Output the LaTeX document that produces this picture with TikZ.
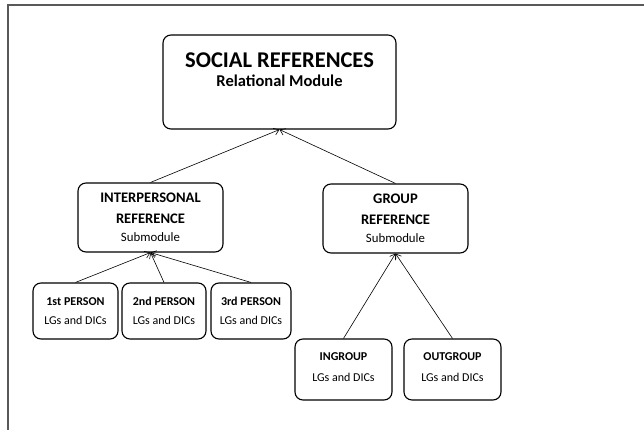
\documentclass[tikz,border=0pt]{standalone}
\usepackage{fontspec}
\setmainfont{Carlito}
\usetikzlibrary{positioning, arrows.meta}

\begin{document}
\begin{tikzpicture}[
        x=1pt, y=-1pt,
        modbox/.style={draw, line width=1.1pt, rounded corners=8pt, align=center, inner sep=2pt},
        leafbox/.style={modbox, font=\fontsize{12}{19}\selectfont},
        every path/.style={line width=0.6pt},
        link/.style={draw, -{Straight Barb[length=5pt,width=7pt]}}
    ]
    \useasboundingbox (0,0) rectangle (644,430);
    % frame
    \draw[line width=1.6pt, black!65] (7.8,430) -- (7.8,5.2) -- (644,5.2);

    % Nodes
    \node (social) [modbox, minimum width=233pt, minimum height=94pt, text depth=24pt,
        font=\fontsize{16.5}{19}\selectfont\bfseries] at (279.5,82)
        {{\fontsize{22.5}{28}\selectfont SOCIAL REFERENCES}\\Relational Module};
    \node (inter) [modbox, minimum width=145pt, minimum height=69pt,
        font=\fontsize{14.6}{21}\selectfont] at (150.5,217.5)
        {\textbf{INTERPERSONAL}\\\textbf{REFERENCE}\\[-3pt]{\fontsize{12.8}{15}\selectfont Submodule}};
    \node (group) [modbox, minimum width=145pt, minimum height=69pt,
        font=\fontsize{14.6}{21}\selectfont] at (395.5,218.5)
        {\textbf{GROUP}\\\textbf{REFERENCE}\\[-3pt]{\fontsize{12.8}{15}\selectfont Submodule}};

    \node (first) [leafbox, minimum width=85pt, minimum height=56pt] at (75.5,311) {\textbf{1st PERSON}\\LGs and DICs};
    \node (second) [leafbox, minimum width=84pt, minimum height=56pt] at (164,311) {\textbf{2nd PERSON}\\LGs and DICs};
    \node (third) [leafbox, minimum width=80pt, minimum height=56pt] at (251,311) {\textbf{3rd PERSON}\\LGs and DICs};

    \node (ingroup) [leafbox, minimum width=97pt, minimum height=61pt, text depth=5pt] at (343.5,369.5) {\textbf{INGROUP}\\[2pt]LGs and DICs};
    \node (outgroup) [leafbox, minimum width=97pt, minimum height=61pt, text depth=5pt] at (452.5,369.5) {\textbf{OUTGROUP}\\[2pt]LGs and DICs};

    % Arrows
    \path[link] (inter.north) -- (social.south);
    \path[link] (group.north) -- (social.south);
    \path[link] (first.north) -- (inter.south);
    \path[link] (second.north) -- (inter.south);
    \path[link] (third.north) -- (inter.south);
    \path[link] (ingroup.north) -- (group.south);
    \path[link] (outgroup.north) -- (group.south);
\end{tikzpicture}
\end{document}
